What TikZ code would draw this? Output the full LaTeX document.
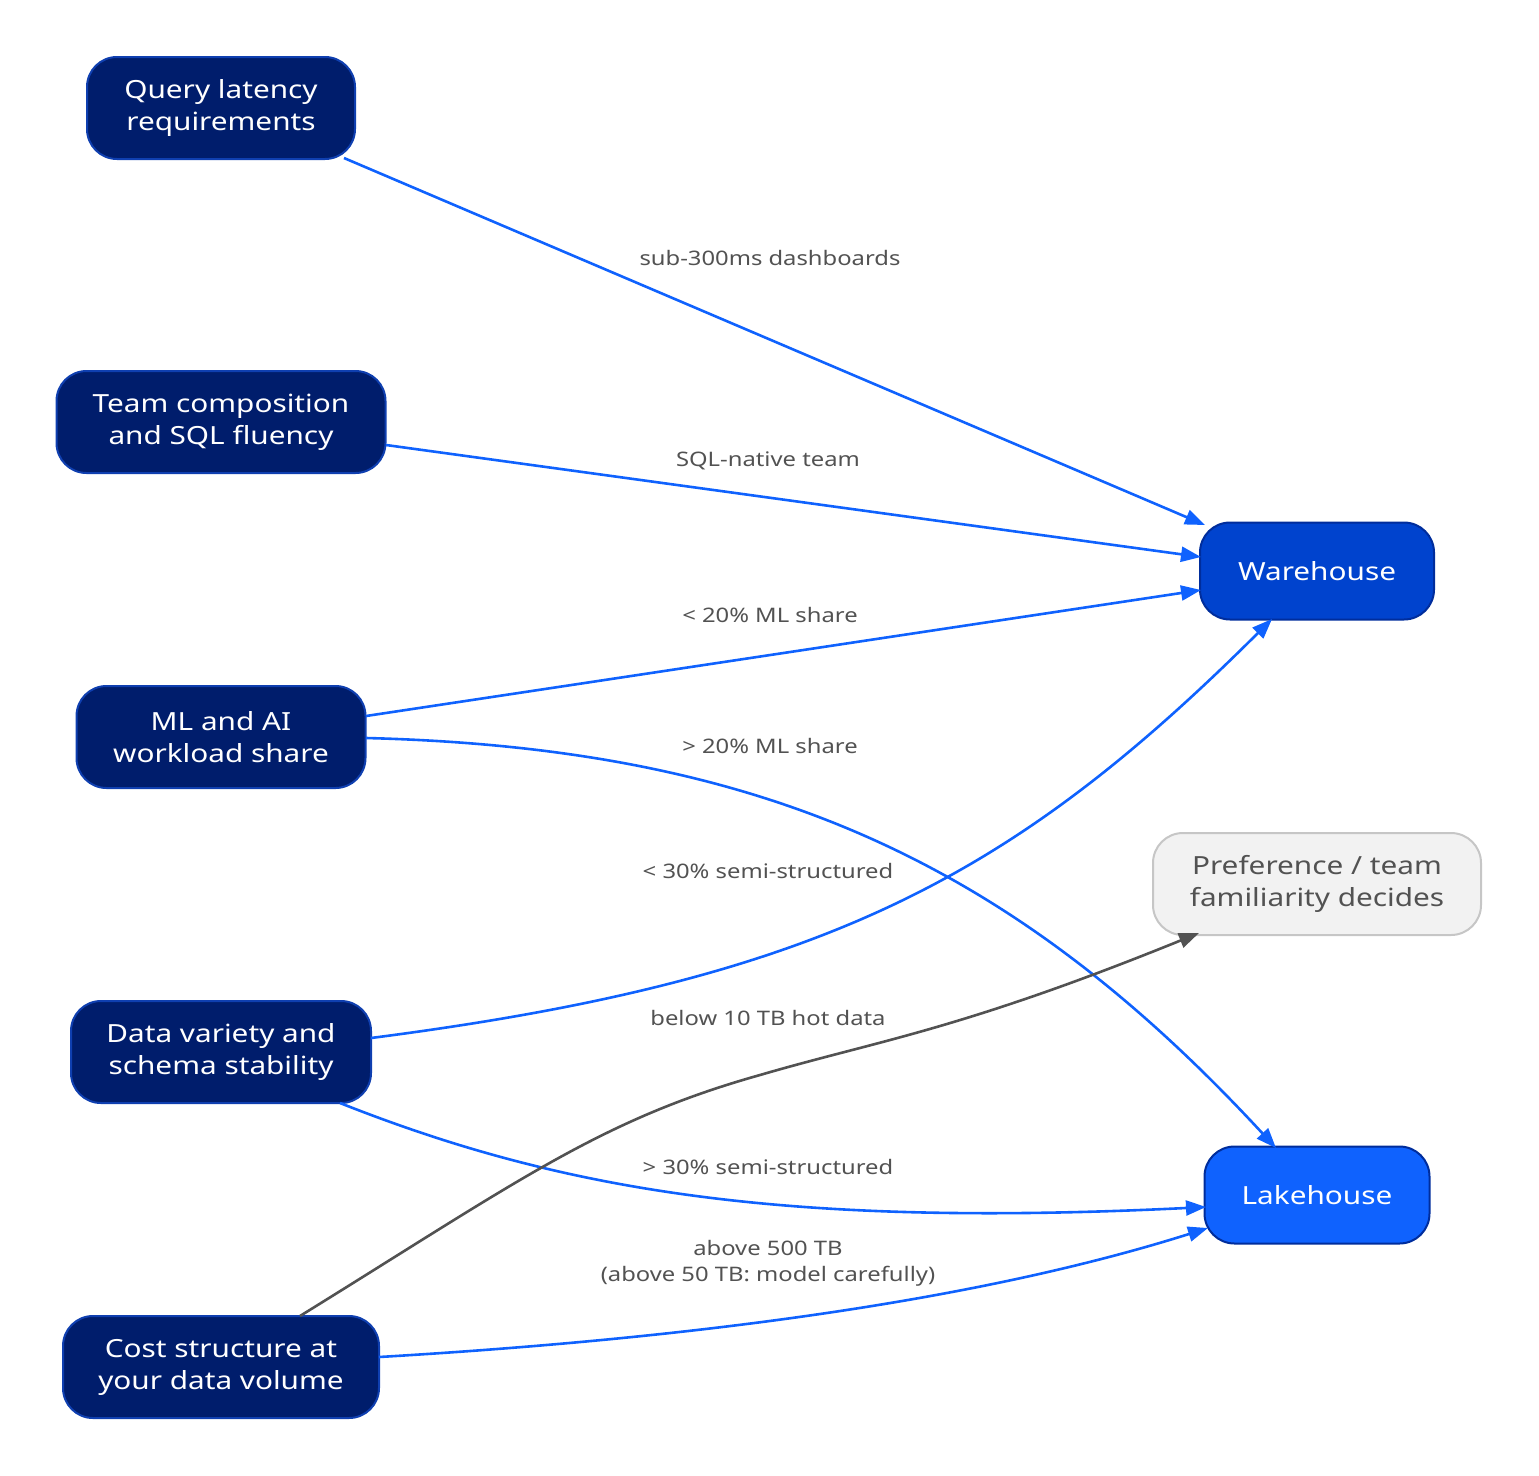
\documentclass[tikz,border=0pt]{standalone}
\usepackage{fontspec}
\setmainfont{Noto Sans}[FakeStretch=1.19]
\usetikzlibrary{arrows.meta}
\definecolor{darkfill}{HTML}{001D6C}
\definecolor{darkline}{HTML}{0F3FB0}
\definecolor{whfill}{HTML}{0043CE}
\definecolor{lhfill}{HTML}{0F62FE}
\definecolor{outline}{HTML}{002D9C}
\definecolor{edgeblue}{HTML}{0F62FE}
\definecolor{grayfill}{HTML}{F2F2F2}
\definecolor{grayline}{HTML}{C6C6C6}
\definecolor{graytext}{HTML}{525252}
\tikzset{
  box/.style={rounded corners=30pt, line width=2pt, align=center, minimum height=102pt,
    inner sep=0pt, font=\fontsize{25}{32}\selectfont, text=white},
  factor/.style={box, fill=darkfill, draw=darkline},
  wh/.style={box, fill=whfill, draw=outline, minimum height=97pt},
  lh/.style={box, fill=lhfill, draw=outline, minimum height=97pt},
  pref/.style={box, fill=grayfill, draw=grayline, text=graytext},
  conn/.style={line width=2.6pt, draw=edgeblue, -{Triangle[length=20pt,width=15pt]}},
  gconn/.style={line width=2.6pt, draw=graytext, -{Triangle[length=20pt,width=15pt]}},
  lbl/.style={text=graytext, font=\fontsize{20}{26}\selectfont, align=center, inner sep=0pt}
}
\begin{document}
\begin{tikzpicture}[x=1pt,y=-1pt]
\useasboundingbox (0,0) rectangle (1539,1475);
\node[factor, minimum width=268pt] (q) at (221,108) {Query latency\\requirements};
\node[factor, minimum width=329pt] (t) at (221,422) {Team composition\\and SQL fluency};
\node[factor, minimum width=289pt] (m) at (221,737) {ML and AI\\workload share};
\node[factor, minimum width=300pt] (d) at (221,1052) {Data variety and\\schema stability};
\node[factor, minimum width=316pt] (c) at (221,1367) {Cost structure at\\your data volume};
\node[wh, minimum width=234pt] (w) at (1317,571) {Warehouse};
\node[pref, minimum width=328pt] (p) at (1317,884) {Preference / team\\familiarity decides};
\node[lh, minimum width=225pt] (l) at (1317,1195) {Lakehouse};

\coordinate (qs) at (344,158);
\coordinate (we1) at (1205,525);
\draw[conn] (qs) -- (we1);
\node[lbl] (l1) at (770,258) {sub-300ms dashboards};

\coordinate (ts) at (386,445);
\coordinate (we2) at (1201,557);
\draw[conn] (ts) -- (we2);
\node[lbl] (l2) at (768,461) {SQL-native team};

\coordinate (ms1) at (366,716);
\coordinate (we3) at (1201,590);
\draw[conn] (ms1) -- (we3);
\node[lbl] (l3) at (770,615) {< 20\% ML share};

\coordinate (ms2) at (366,738);
\coordinate (le1) at (1276,1148);
\draw[conn] (ms2) .. controls (760,748) and (1010,860) .. (le1);
\node[lbl] (l4) at (770,746) {> 20\% ML share};

\coordinate (ds1) at (371,1038);
\coordinate (we4) at (1272,619);
\draw[conn] (ds1) .. controls (820,980) and (1010,880) .. (we4);
\node[lbl] (l5) at (768,871) {< 30\% semi-structured};

\coordinate (ds2) at (340,1103);
\coordinate (le2) at (1206,1207);
\draw[conn] (ds2) .. controls (560,1190) and (780,1228) .. (le2);
\node[lbl] (l6) at (768,1167) {> 30\% semi-structured};

\coordinate (cs1) at (300,1316);
\coordinate (pe) at (1199,933);
\draw[gconn] (cs1) .. controls (520,1180) and (600,1120) .. (760,1075) .. controls (880,1040) and (960,1030) .. (pe);
\node[lbl] (l7) at (768,1018) {below 10 TB hot data};

\coordinate (cs2) at (379,1357);
\coordinate (le3) at (1208,1228);
\draw[conn] (cs2) .. controls (700,1338) and (980,1300) .. (le3);
\node[lbl] (l8) at (768,1263) {above 500 TB\\(above 50 TB: model carefully)};
\end{tikzpicture}
\end{document}
